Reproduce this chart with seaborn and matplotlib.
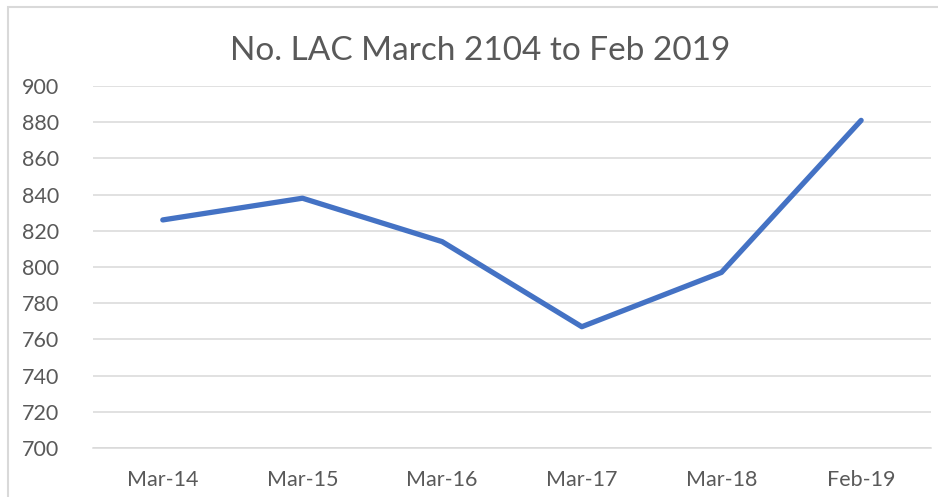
import pandas as pd
import matplotlib
matplotlib.use("Agg")
import matplotlib.pyplot as plt
import seaborn as sns
from matplotlib.patches import Rectangle

periods = ["Mar-14", "Mar-15", "Mar-16", "Mar-17", "Mar-18", "Feb-19"]
lac_count = [826, 838, 814, 767, 797, 881]
y_ticks = list(range(700, 901, 20))

df = pd.DataFrame({"period": periods, "lac": lac_count})

sns.set_style("white")
plt.rcParams["font.family"] = ["Lato", "DejaVu Sans"]

fig = plt.figure(figsize=(9.38, 4.97), dpi=100)
ax = fig.add_axes([0.0991, 0.0986, 0.8934, 0.7284])

sns.lineplot(data=df, x="period", y="lac", ax=ax, color="#4472C4",
             linewidth=3.8, solid_capstyle="round", sort=False)

ax.set_ylim(700, 900)
ax.set_xlim(-0.5, len(periods) - 0.5)
ax.set_yticks(y_ticks)
ax.yaxis.grid(True, color="#D9D9D9", linewidth=1.1)
ax.set_axisbelow(True)

for s in ["top", "right", "left"]:
    ax.spines[s].set_visible(False)
ax.spines["bottom"].set_color("#D9D9D9")
ax.spines["bottom"].set_linewidth(1.1)

ax.set_xticks(range(len(periods)))
ax.set_xticklabels(periods)
ax.set_xticks([i - 0.5 for i in range(len(periods) + 1)], minor=True)
ax.tick_params(axis="x", which="major", length=0, pad=16, labelsize=15.5, labelcolor="#595959")
ax.tick_params(axis="x", which="minor", length=7, width=1.1, color="#D9D9D9", direction="out")
ax.tick_params(axis="y", length=0, pad=24, labelsize=15.5, labelcolor="#595959")

ax.set_xlabel("")
ax.set_ylabel("")

fig.text(0.512, 0.898, "No. LAC March 2104 to Feb 2019", ha="center", va="center",
         fontsize=24, color="#595959")

# chart frame
fig.patches.append(Rectangle((8 / 938, -0.1), 1.2, 1.1 - 7 / 497,
                             transform=fig.transFigure, fill=False,
                             edgecolor="#D9D9D9", linewidth=1.5))

fig.savefig("out.png", dpi=100)
